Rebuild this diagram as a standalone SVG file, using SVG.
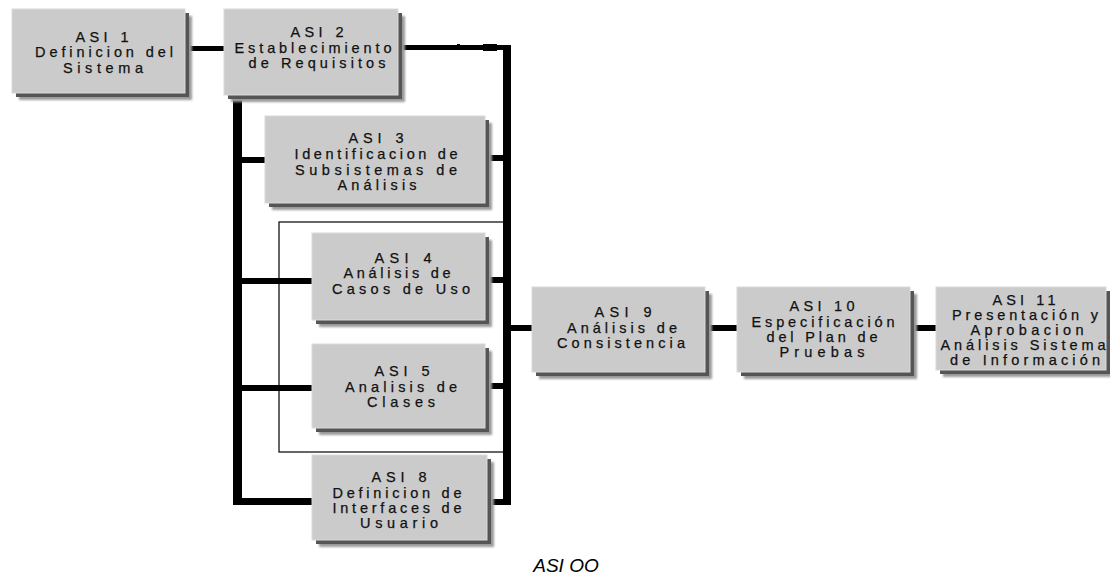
<svg xmlns="http://www.w3.org/2000/svg" width="1110" height="576" viewBox="0 0 1110 576">
  <style>
    .bg { fill: #ffffff; }
    .box { fill: #cbcbcb; stroke: #dadada; stroke-width: 1; }
    .sh1 { fill: #9a9a9a; }
    .sh2 { fill: #555555; }
    .lbl { font-family: "Liberation Sans", Arial, sans-serif; font-size: 14.5px; fill: #111111; stroke: #111111; stroke-width: 0.25; text-anchor: middle; }
    .bar { fill: #000000; }
    .frame { fill: none; stroke: #000000; stroke-width: 1.2; }
    .caption { font-family: "Liberation Sans", Arial, sans-serif; font-size: 19px; font-style: italic; fill: #000000; text-anchor: middle; }
  </style>
  <defs>
    <filter id="soft" x="-5%" y="-5%" width="110%" height="110%">
      <feGaussianBlur stdDeviation="0.8"/>
    </filter>
  </defs>

  <rect class="bg" x="0" y="0" width="1110" height="576"/>

  <!-- connectors: thick buses and branches, plus the thin grouping frame -->
  <g id="connectors">
    <rect class="frame" x="279" y="222" width="228" height="230"/>
    <!-- ASI 1 to ASI 2 -->
    <rect class="bar" x="185" y="46" width="39" height="5"/>
    <!-- top line from ASI 2 to right bus -->
    <rect class="bar" x="398" y="45" width="113" height="5"/>
    <rect class="bar" x="457" y="44" width="3" height="3"/>
    <rect class="bar" x="483" y="44" width="14" height="7"/>
    <!-- right bus -->
    <rect class="bar" x="503" y="45" width="8" height="460"/>
    <!-- left bus -->
    <rect class="bar" x="233" y="95" width="9" height="410"/>
    <!-- branches on the left bus -->
    <rect class="bar" x="242" y="157" width="23" height="6"/>
    <rect class="bar" x="242" y="278" width="70" height="6"/>
    <rect class="bar" x="242" y="385" width="70" height="6"/>
    <rect class="bar" x="233" y="498" width="79" height="7"/>
    <!-- branches on the right bus -->
    <rect class="bar" x="485" y="155" width="18" height="6"/>
    <rect class="bar" x="485" y="277" width="18" height="6"/>
    <rect class="bar" x="485" y="383" width="18" height="6"/>
    <rect class="bar" x="487" y="499" width="24" height="6"/>
    <!-- right bus to ASI 9, then the chain to ASI 11 -->
    <rect class="bar" x="511" y="325" width="21" height="6"/>
    <rect class="bar" x="705" y="325" width="32" height="6"/>
    <rect class="bar" x="910" y="325" width="26" height="6"/>
  </g>

  <g id="asi1">
    <rect class="sh1" x="19" y="16" width="173" height="84" filter="url(#soft)"/>
    <rect class="sh2" x="16" y="13" width="173" height="84"/>
    <rect class="box" x="12" y="9" width="173" height="84"/>
    <text class="lbl" x="102" y="42" textLength="53" lengthAdjust="spacing">ASI 1</text>
    <text class="lbl" x="104" y="57" textLength="138" lengthAdjust="spacing">Definicion del</text>
    <text class="lbl" x="103" y="73" textLength="80" lengthAdjust="spacing">Sistema</text>
  </g>

  <g id="asi2">
    <rect class="sh1" x="231" y="16" width="174" height="86" filter="url(#soft)"/>
    <rect class="sh2" x="228" y="13" width="174" height="86"/>
    <rect class="box" x="224" y="9" width="174" height="86"/>
    <text class="lbl" x="317" y="37" textLength="53" lengthAdjust="spacing">ASI 2</text>
    <text class="lbl" x="313" y="53" textLength="157" lengthAdjust="spacing">Establecimiento</text>
    <text class="lbl" x="317" y="68" textLength="137" lengthAdjust="spacing">de Requisitos</text>
  </g>

  <g id="asi3">
    <rect class="sh1" x="272" y="123" width="220" height="87" filter="url(#soft)"/>
    <rect class="sh2" x="269" y="120" width="220" height="87"/>
    <rect class="box" x="265" y="116" width="220" height="87"/>
    <text class="lbl" x="376" y="143" textLength="55" lengthAdjust="spacing">ASI 3</text>
    <text class="lbl" x="376" y="159" textLength="163" lengthAdjust="spacing">Identificacion de</text>
    <text class="lbl" x="376" y="175" textLength="162" lengthAdjust="spacing">Subsistemas de</text>
    <text class="lbl" x="377" y="190" textLength="79" lengthAdjust="spacing">Análisis</text>
  </g>

  <g id="asi4">
    <rect class="sh1" x="319" y="240" width="173" height="87" filter="url(#soft)"/>
    <rect class="sh2" x="316" y="237" width="173" height="87"/>
    <rect class="box" x="312" y="233" width="173" height="87"/>
    <text class="lbl" x="403" y="263" textLength="57" lengthAdjust="spacing">ASI 4</text>
    <text class="lbl" x="397" y="278" textLength="107" lengthAdjust="spacing">Análisis de</text>
    <text class="lbl" x="401" y="294" textLength="138" lengthAdjust="spacing">Casos de Uso</text>
  </g>

  <g id="asi5">
    <rect class="sh1" x="319" y="351" width="173" height="84" filter="url(#soft)"/>
    <rect class="sh2" x="316" y="348" width="173" height="84"/>
    <rect class="box" x="312" y="344" width="173" height="84"/>
    <text class="lbl" x="402" y="376" textLength="55" lengthAdjust="spacing">ASI 5</text>
    <text class="lbl" x="401" y="392" textLength="112" lengthAdjust="spacing">Analisis de</text>
    <text class="lbl" x="401" y="407" textLength="68" lengthAdjust="spacing">Clases</text>
  </g>

  <g id="asi8">
    <rect class="sh1" x="319" y="462" width="175" height="85" filter="url(#soft)"/>
    <rect class="sh2" x="316" y="459" width="175" height="85"/>
    <rect class="box" x="312" y="455" width="175" height="85"/>
    <text class="lbl" x="399" y="482" textLength="55" lengthAdjust="spacing">ASI 8</text>
    <text class="lbl" x="397" y="498" textLength="129" lengthAdjust="spacing">Definicion de</text>
    <text class="lbl" x="397" y="513" textLength="129" lengthAdjust="spacing">Interfaces de</text>
    <text class="lbl" x="399" y="528" textLength="78" lengthAdjust="spacing">Usuario</text>
  </g>

  <g id="asi9">
    <rect class="sh1" x="539" y="294" width="173" height="85" filter="url(#soft)"/>
    <rect class="sh2" x="536" y="291" width="173" height="85"/>
    <rect class="box" x="532" y="287" width="173" height="85"/>
    <text class="lbl" x="623" y="317" textLength="57" lengthAdjust="spacing">ASI 9</text>
    <text class="lbl" x="622" y="333" textLength="110" lengthAdjust="spacing">Análisis de</text>
    <text class="lbl" x="621" y="348" textLength="128" lengthAdjust="spacing">Consistencia</text>
  </g>

  <g id="asi10">
    <rect class="sh1" x="744" y="294" width="173" height="85" filter="url(#soft)"/>
    <rect class="sh2" x="741" y="291" width="173" height="85"/>
    <rect class="box" x="737" y="287" width="173" height="85"/>
    <text class="lbl" x="822" y="311" textLength="65" lengthAdjust="spacing">ASI 10</text>
    <text class="lbl" x="823" y="327" textLength="143" lengthAdjust="spacing">Especificación</text>
    <text class="lbl" x="822" y="342" textLength="111" lengthAdjust="spacing">del Plan de</text>
    <text class="lbl" x="822" y="357" textLength="85" lengthAdjust="spacing">Pruebas</text>
  </g>

  <g id="asi11">
    <rect class="sh1" x="943" y="294" width="170" height="83" filter="url(#soft)"/>
    <rect class="sh2" x="940" y="291" width="170" height="83"/>
    <rect class="box" x="936" y="287" width="170" height="83"/>
    <text class="lbl" x="1024" y="305" textLength="63" lengthAdjust="spacing">ASI 11</text>
    <text class="lbl" x="1025" y="320" textLength="146" lengthAdjust="spacing">Presentación y</text>
    <text class="lbl" x="1027" y="335" textLength="113" lengthAdjust="spacing">Aprobacion</text>
    <text class="lbl" x="1023" y="350" textLength="165" lengthAdjust="spacing">Análisis Sistema</text>
    <text class="lbl" x="1025" y="365" textLength="150" lengthAdjust="spacing">de Información</text>
  </g>

  <text class="caption" x="566" y="572">ASI OO</text>
</svg>
